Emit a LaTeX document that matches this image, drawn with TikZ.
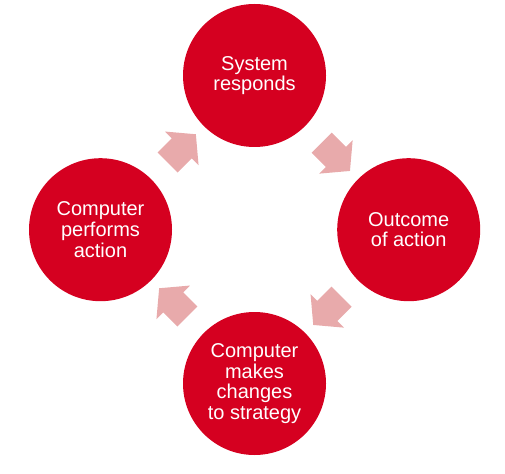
\documentclass[tikz,border=0pt]{standalone}
\usepackage{fontspec}
\setmainfont{Liberation Sans}
\usetikzlibrary{shapes.arrows,calc}
\definecolor{cycred}{RGB}{213,0,32}
\definecolor{cycpink}{RGB}{232,170,171}
\begin{document}
\begin{tikzpicture}[x=1pt,y=-1pt,
  stage/.style={circle,fill=cycred,draw=none,minimum size=143pt,inner sep=0pt,
    text=white,align=center,font=\fontsize{20}{20.7}\selectfont},
  cycarrow/.style={single arrow,fill=cycpink,draw=none,minimum height=40pt,
    inner xsep=0pt,inner ysep=14pt,single arrow head extend=9.5pt,
    single arrow tip angle=100,text width=0pt,text height=0pt,text depth=0pt}]
\useasboundingbox (0,0) rectangle (505,473);
\node[stage] (top) at (254.5,75.5) {System\\responds};
\node[stage] (right) at (408.7,229.7) {Outcome\\of action};
\node[stage] (bottom) at (254.5,383.5) {Computer\\makes\\changes\\to strategy};
\node[stage] (left) at (100.5,229.7) {Computer\\performs\\action};
\node[cycarrow,rotate=45] (a1) at ($(left)!0.5!(top)$) {};
\node[cycarrow,rotate=-45] (a2) at ($(top)!0.5!(right)$) {};
\node[cycarrow,rotate=-135] (a3) at ($(right)!0.5!(bottom)$) {};
\node[cycarrow,rotate=135] (a4) at ($(bottom)!0.5!(left)$) {};
\end{tikzpicture}
\end{document}
